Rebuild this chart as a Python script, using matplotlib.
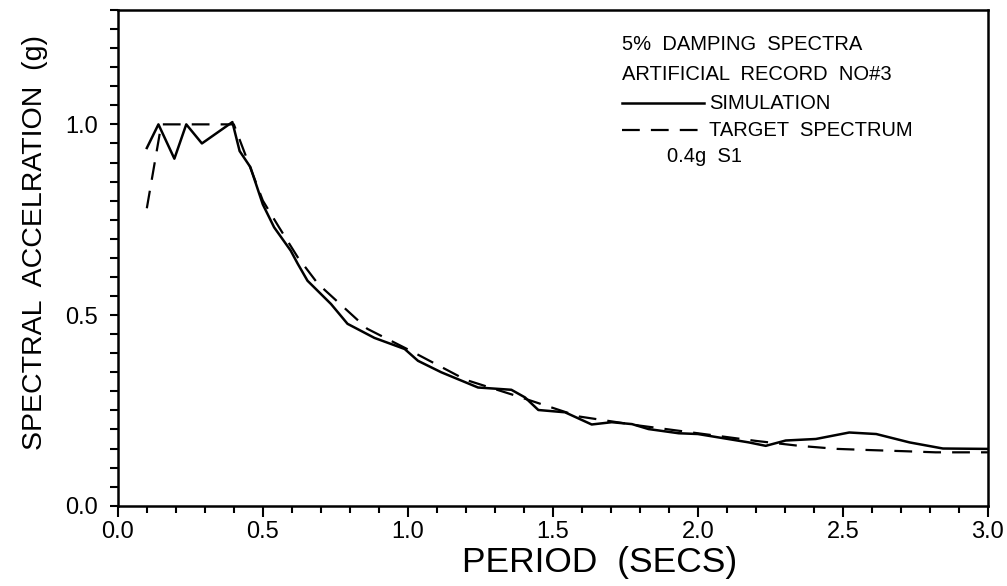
import numpy as np
import matplotlib
matplotlib.use('Agg')
import matplotlib.pyplot as plt
from matplotlib.ticker import MultipleLocator

plt.rcParams['font.family'] = ['Liberation Sans', 'DejaVu Sans']

# simulation spectrum (solid)
sim_T = [0.10, 0.14, 0.195, 0.236, 0.29, 0.395, 0.42, 0.457, 0.50, 0.539, 0.596,
         0.62, 0.654, 0.735, 0.792, 0.885, 0.989, 1.035, 1.115, 1.242, 1.357,
         1.404, 1.45, 1.542, 1.634, 1.703, 1.773, 1.83, 1.934, 2.0, 2.176, 2.234,
         2.303, 2.407, 2.522, 2.615, 2.73, 2.845, 3.0]
sim_S = [0.938, 1.0, 0.91, 1.0, 0.95, 1.006, 0.93, 0.888, 0.79, 0.73, 0.669,
         0.635, 0.59, 0.529, 0.477, 0.44, 0.411, 0.38, 0.35, 0.31, 0.304,
         0.284, 0.251, 0.245, 0.213, 0.219, 0.214, 0.201, 0.19, 0.188, 0.166, 0.157,
         0.171, 0.175, 0.192, 0.188, 0.166, 0.15, 0.149]

# target spectrum (dashed)
tgt_T = [0.10, 0.15, 0.40, 0.45, 0.50, 0.556, 0.62, 0.69, 0.86, 1.0, 1.2, 1.37,
         1.59, 1.8, 2.0, 2.2, 2.35, 2.48, 2.59, 2.71, 2.82, 3.0]
tgt_S = [0.78, 1.0, 1.0, 0.9, 0.80, 0.73, 0.652, 0.582, 0.464, 0.41, 0.33, 0.289,
         0.234, 0.21, 0.19, 0.17, 0.157, 0.149, 0.146, 0.143, 0.14, 0.14]

x_ticks = [0.0, 0.5, 1.0, 1.5, 2.0, 2.5, 3.0]
y_ticks = [0.0, 0.5, 1.0]

fig = plt.figure(figsize=(10.07, 5.86), dpi=100)
ax = fig.add_axes([0.117, 0.137, 0.864, 0.846])

ax.plot(sim_T, sim_S, color='black', lw=1.8)
ax.plot(tgt_T, tgt_S, color='black', lw=1.6, dashes=(8, 5))

ax.set_xlim(0, 3.0)
ax.set_ylim(0, 1.3)
ax.set_xticks(x_ticks)
ax.set_xticklabels(['%.1f' % v for v in x_ticks])
ax.set_yticks(y_ticks)
ax.set_yticklabels(['%.1f' % v for v in y_ticks])
ax.xaxis.set_minor_locator(MultipleLocator(0.1))
ax.yaxis.set_minor_locator(MultipleLocator(0.05))
ax.tick_params(which='both', direction='out', width=1.5, labelsize=17)
ax.tick_params(axis='x', which='major', length=8, pad=3)
ax.tick_params(axis='x', which='minor', length=5)
ax.tick_params(axis='y', which='both', length=6, pad=8)
for s in ax.spines.values():
    s.set_linewidth(1.8)

ax.set_xlabel('PERIOD  (SECS)', fontsize=25.5)
ax.xaxis.set_label_coords(0.554, -0.082)
ax.set_ylabel('SPECTRAL  ACCELRATION  (g)', fontsize=20.5)
ax.yaxis.set_label_coords(-0.080, 0.53)

# legend block drawn as text, like the plotter original
ax.text(1.74, 1.21, '5%  DAMPING  SPECTRA', fontsize=14.5, va='center')
ax.text(1.74, 1.13, 'ARTIFICIAL  RECORD  NO#3', fontsize=14.5, va='center')
ax.plot([1.74, 2.02], [1.055, 1.055], color='black', lw=1.8)
ax.text(2.04, 1.055, 'SIMULATION', fontsize=14.5, va='center')
ax.plot([1.74, 2.02], [0.985, 0.985], color='black', lw=1.6, dashes=(8, 5))
ax.text(2.04, 0.985, 'TARGET  SPECTRUM', fontsize=14.5, va='center')
ax.text(1.895, 0.915, '0.4g  S1', fontsize=14.5, va='center')

fig.savefig('out.png', dpi=100)
